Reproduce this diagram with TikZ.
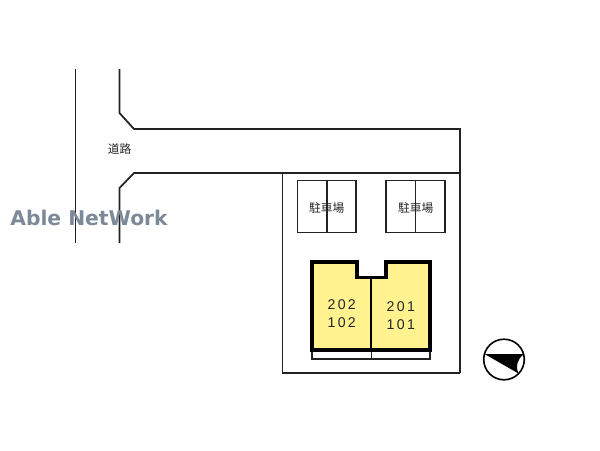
\documentclass[tikz,border=0pt]{standalone}
\usepackage{fontspec}
\setmainfont{Liberation Sans}
\newfontfamily\cjk{Noto Sans CJK JP}
\newfontfamily\markfont{DejaVu Sans}

\definecolor{unityellow}{HTML}{FFF28F}
\definecolor{markgray}{HTML}{7C8999}
\definecolor{planline}{HTML}{222222}

\tikzset{
  thinwall/.style={draw=planline, line width=1.3pt},
  thickwall/.style={draw=black, line width=2.3pt, line join=miter},
  cjklabel/.style={font=\cjk\fontsize{8.8}{10}\selectfont, text=black!85, inner sep=0pt},
  unitlabel/.style={font=\fontsize{10.6}{13.5}\selectfont, text=black!85, align=center, inner sep=0pt},
}

\begin{document}
\begin{tikzpicture}[x=0.75pt, y=-0.75pt]

  \useasboundingbox (0, 0) rectangle (600, 450);

  % road
  \draw [thinwall, line width=0.9pt] (75.5, 69) -- (75.5, 243);
  \draw [thinwall] (119.5, 69) -- (119.5, 113) -- (134, 129) -- (460, 129) -- (460, 373);
  \draw [thinwall] (119.5, 243) -- (119.5, 188) -- (134, 173) -- (460, 173);
  \node [cjklabel] (road) at (119.5, 149) {道路};

  % site
  \draw [thinwall] (282.5, 173) -- (282.5, 373) -- (460, 373);

  % first parking
  \draw [thinwall, line width=1.1pt] (297.5, 180.5) rectangle (356, 232.5);
  \draw [thinwall, line width=1.1pt] (326.8, 180.5) -- (326.8, 232.5);
  \node [cjklabel] (parkleft) at (326.8, 208) {駐車場};

  % second parking
  \draw [thinwall, line width=1.1pt] (386, 180.5) rectangle (445, 232.5);
  \draw [thinwall, line width=1.1pt] (415.7, 180.5) -- (415.7, 232.5);
  \node [cjklabel] (parkright) at (415.7, 208) {駐車場};

  % balconies
  \draw [thinwall, line width=0.8pt] (312, 350) rectangle (430, 359);
  \draw [thinwall, line width=0.8pt] (371.3, 350) -- (371.3, 359);

  % building
  \draw [thickwall, fill=unityellow] (312, 262) -- (357, 262) -- (357, 277.5) -- (386, 277.5)
    -- (386, 262) -- (430, 262) -- (430, 350) -- (312, 350) -- cycle;
  \draw [draw=black, line width=1.6pt] (371.3, 277.5) -- (371.3, 350);
  \node [unitlabel] (unitleft) at (341.7, 314) {2\,0\,2\\1\,0\,2};
  \node [unitlabel] (unitright) at (400.8, 316) {2\,0\,1\\1\,0\,1};

  % north mark
  \draw [black, line width=1.2pt] (504, 359.5) circle [radius=20.3];
  \fill [black] (484.5, 354) -- (524, 354) .. controls (518, 358) and (515, 366) .. (518.5, 373.5) -- cycle;

  % watermark
  \node [font=\markfont\bfseries\fontsize{15.2}{18}\selectfont, text=markgray, inner sep=0pt] (mark) at (89, 218) {Able NetWork};

\end{tikzpicture}
\end{document}
